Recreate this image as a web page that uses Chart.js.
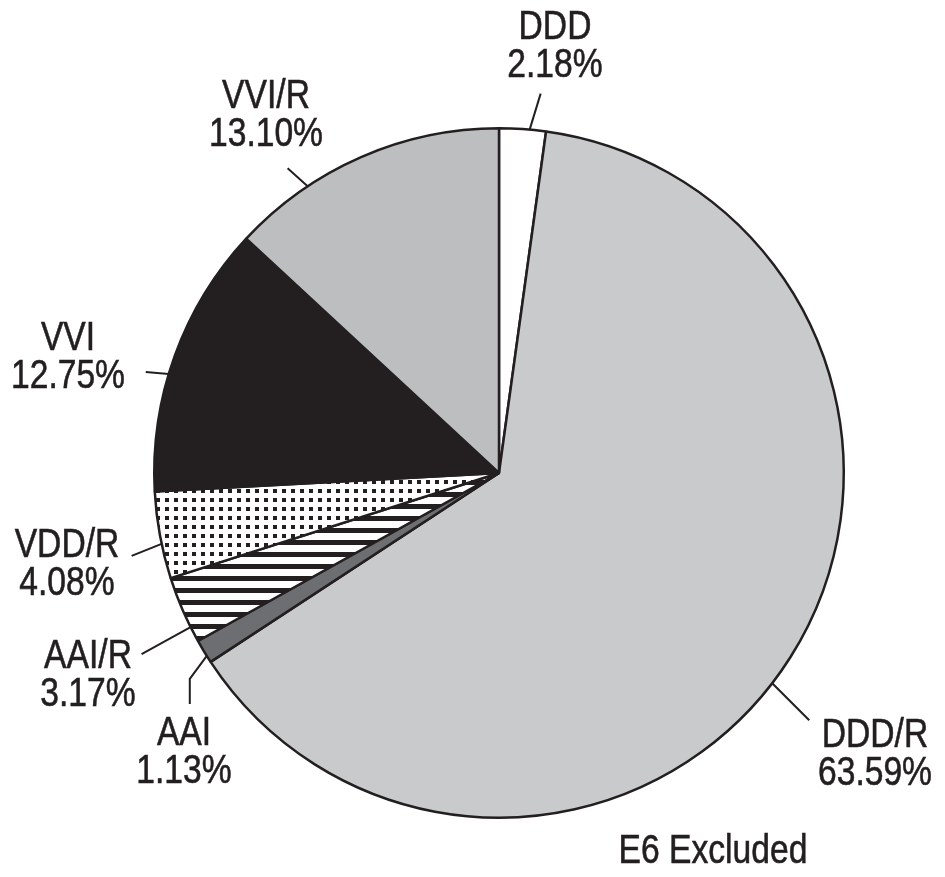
<!DOCTYPE html>
<html>
<head>
<meta charset="utf-8">
<script src="https://cdn.jsdelivr.net/npm/chart.js@4.4.1/dist/chart.umd.min.js"></script>
<style>
  html, body { margin: 0; padding: 0; background: #ffffff; }
  #wrap { width: 945px; height: 877px; position: relative; }
</style>
</head>
<body>
<div id="wrap"><canvas id="c" width="945" height="877"></canvas></div>
<script>
// ---- data ----
const categories = ['DDD', 'DDD/R', 'AAI', 'AAI/R', 'VDD/R', 'VVI', 'VVI/R'];
const percentages = [2.18, 63.59, 1.13, 3.17, 4.08, 12.75, 13.10];
const valueLabels = ['2.18%', '63.59%', '1.13%', '3.17%', '4.08%', '12.75%', '13.10%'];
const footnote = 'E6 Excluded';

// ---- styles ----
const INK = '#231f20';
const FONT = '"Liberation Sans", Arial, sans-serif';
const SQUEEZE = 0.82;

function dotPattern() {
  const c = document.createElement('canvas');
  c.width = 9; c.height = 9;
  const g = c.getContext('2d');
  g.fillStyle = '#ffffff'; g.fillRect(0, 0, 9, 9);
  g.fillStyle = INK; g.fillRect(3, 3, 4, 4);
  return document.getElementById('c').getContext('2d').createPattern(c, 'repeat');
}
function stripePattern() {
  const c = document.createElement('canvas');
  c.width = 12; c.height = 12;
  const g = c.getContext('2d');
  g.fillStyle = '#ffffff'; g.fillRect(0, 0, 12, 12);
  g.fillStyle = INK; g.fillRect(0, 0, 12, 5);
  return document.getElementById('c').getContext('2d').createPattern(c, 'repeat');
}

const fills = ['#ffffff', '#c9cacc', '#6d6e71', stripePattern(), dotPattern(), INK, '#bdbec0'];

// label layout: fraction along slice for leader start, leader path offsets, text centre/baseline
const labelLayout = [
  { frac: 0.65, path: [[11, -36]], tx: 555, ty: 39 },
  { frac: 0.523, path: [[37, 37]], tx: 875, ty: 747 },
  { frac: 0.29, path: [[-17, 23], [-17, 48]], tx: 184, ty: 745 },
  { frac: 0.23, path: [[-49, 27]], tx: 88, ty: 668 },
  { frac: 0.40, path: [[-30, 12]], tx: 67, ty: 557 },
  { frac: 0.43, path: [[-23, -2]], tx: 68, ty: 350 },
  { frac: 0.285, path: [[-20, -18]], tx: 266, ty: 108 }
];

function squeezedText(ctx, text, x, y) {
  ctx.save();
  ctx.translate(x, y);
  ctx.scale(SQUEEZE, 1);
  ctx.fillText(text, 0, 0);
  ctx.strokeText(text, 0, 0);
  ctx.restore();
}

const labelPlugin = {
  id: 'pieLabels',
  afterDraw(chart) {
    const ctx = chart.ctx;
    const arcs = chart.getDatasetMeta(0).data;
    ctx.save();
    ctx.strokeStyle = INK;
    ctx.fillStyle = INK;
    ctx.font = '41px ' + FONT;
    ctx.textAlign = 'center';
    ctx.textBaseline = 'alphabetic';
    arcs.forEach((arc, i) => {
      const L = labelLayout[i];
      const p = arc.getProps(['x', 'y', 'startAngle', 'endAngle', 'outerRadius'], true);
      const a = p.startAngle + L.frac * (p.endAngle - p.startAngle);
      const sx = p.x + Math.cos(a) * p.outerRadius;
      const sy = p.y + Math.sin(a) * p.outerRadius;
      ctx.lineWidth = 2;
      ctx.beginPath();
      ctx.moveTo(sx, sy);
      L.path.forEach(([dx, dy]) => ctx.lineTo(sx + dx, sy + dy));
      ctx.stroke();
      ctx.lineWidth = 0.6;
      squeezedText(ctx, categories[i], L.tx, L.ty);
      squeezedText(ctx, valueLabels[i], L.tx, L.ty + 38);
    });
    ctx.lineWidth = 0.6;
    squeezedText(ctx, footnote, 713, 863);
    ctx.restore();
  }
};

new Chart(document.getElementById('c'), {
  type: 'pie',
  data: {
    labels: categories,
    datasets: [{
      data: percentages,
      backgroundColor: fills,
      borderColor: INK,
      borderWidth: 2.5,
      borderAlign: 'center'
    }]
  },
  options: {
    responsive: false,
    animation: false,
    layout: { padding: { left: 153, right: 100, top: 127, bottom: 58 } },
    plugins: {
      legend: { display: false },
      tooltip: { enabled: false }
    }
  },
  plugins: [labelPlugin]
});
</script>
</body>
</html>
